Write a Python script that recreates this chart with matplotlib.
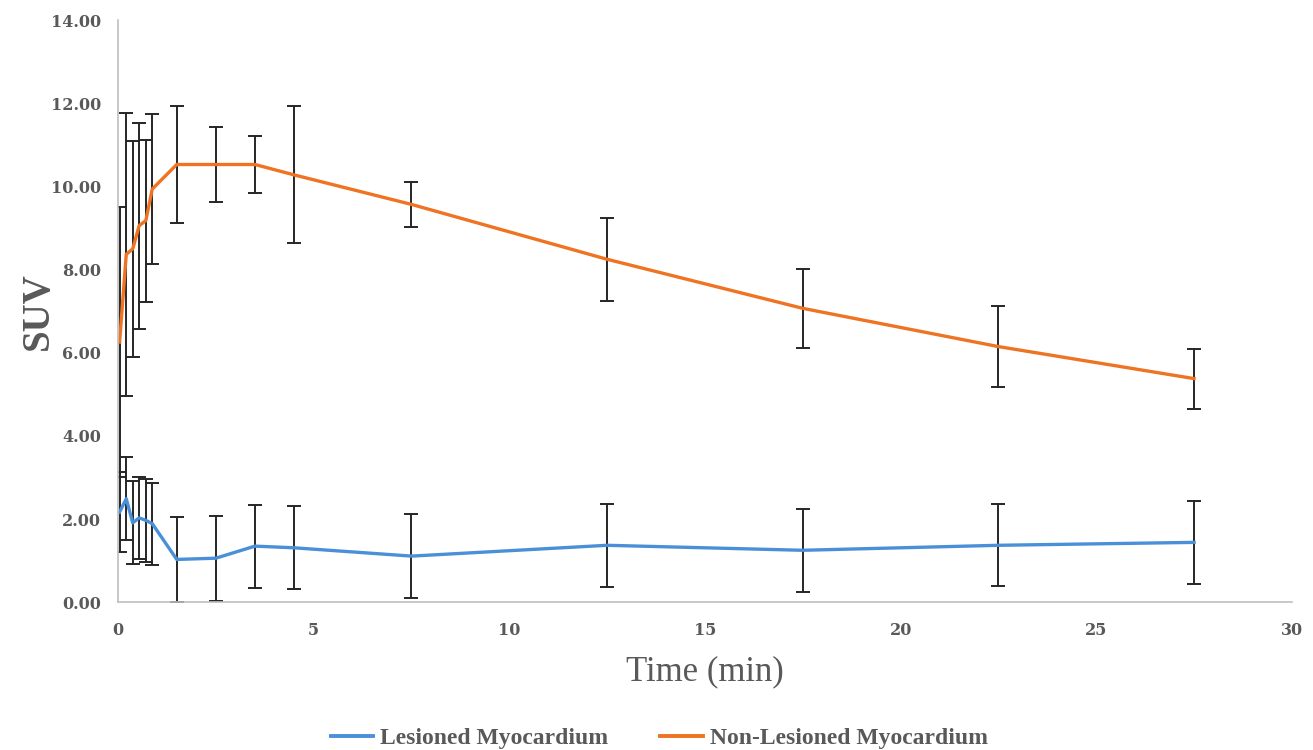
import matplotlib.pyplot as plt
from matplotlib.lines import Line2D
import numpy as np

# time points (min) and SUV means / errors
time = [0.04, 0.21, 0.375, 0.54, 0.71, 0.875, 1.5, 2.5, 3.5, 4.5, 7.5, 12.5, 17.5, 22.5, 27.5]
lesioned = [2.17, 2.49, 1.91, 2.03, 1.97, 1.89, 1.03, 1.06, 1.35, 1.31, 1.11, 1.37, 1.25, 1.37, 1.44]
lesioned_err = [0.96, 1.0, 1.0, 0.98, 1.0, 0.99, 1.02, 1.02, 1.0, 1.0, 1.01, 1.0, 1.0, 0.99, 1.0]
non_lesioned = [6.26, 8.37, 8.50, 9.06, 9.18, 9.94, 10.53, 10.53, 10.53, 10.28, 9.57, 8.25, 7.07, 6.15, 5.38]
non_lesioned_err = [3.24, 3.4, 2.6, 2.48, 1.95, 1.8, 1.4, 0.9, 0.69, 1.65, 0.54, 1.0, 0.95, 0.97, 0.72]

grey = '#595959'
blue = '#4A90D9'
orange = '#EE7322'
plt.rcParams['font.family'] = ['Liberation Serif', 'DejaVu Serif']

fig = plt.figure(figsize=(13.13, 7.5), dpi=100)
ax = fig.add_axes([0.0899, 0.197, 0.894, 0.776])

ax.errorbar(time, lesioned, yerr=lesioned_err, color=blue, lw=2.4,
            ecolor='#262626', elinewidth=1.4, capsize=5, capthick=1.4)
ax.errorbar(time, non_lesioned, yerr=non_lesioned_err, color=orange, lw=2.4,
            ecolor='#262626', elinewidth=1.4, capsize=5, capthick=1.4)

ax.set_xlim(0, 30)
ax.set_ylim(0, 14)
ax.set_xticks(np.arange(0, 31, 5))
ax.set_yticks(np.arange(0, 15, 2))
ax.set_yticklabels(['%.2f' % v for v in np.arange(0, 15, 2)])
ax.tick_params(length=0, labelsize=11.5, labelcolor=grey, pad=12)
ax.tick_params(axis='x', pad=14)
for lab in ax.get_xticklabels() + ax.get_yticklabels():
    lab.set_family('DejaVu Serif')
    lab.set_fontweight('bold')

for s in ['top', 'right']:
    ax.spines[s].set_visible(False)
for s in ['left', 'bottom']:
    ax.spines[s].set_color('#BFBFBF')
    ax.spines[s].set_linewidth(1.2)

ax.set_xlabel('Time (min)', fontsize=25, color=grey, labelpad=12)
ax.set_ylabel('SUV', fontsize=28, color=grey, fontweight='bold')
ax.yaxis.set_label_coords(-0.052, 0.5)

handles = [Line2D([], [], color=blue, lw=2.8), Line2D([], [], color=orange, lw=2.8)]
leg = fig.legend(handles, ['Lesioned Myocardium', 'Non-Lesioned Myocardium'],
                 loc='center', bbox_to_anchor=(0.502, 0.016), ncol=2, frameon=False,
                 prop={'size': 17, 'weight': 'bold'}, handlelength=1.8,
                 columnspacing=2.2, handletextpad=0.3)
for t in leg.get_texts():
    t.set_color(grey)

fig.savefig('out.png', dpi=100)
